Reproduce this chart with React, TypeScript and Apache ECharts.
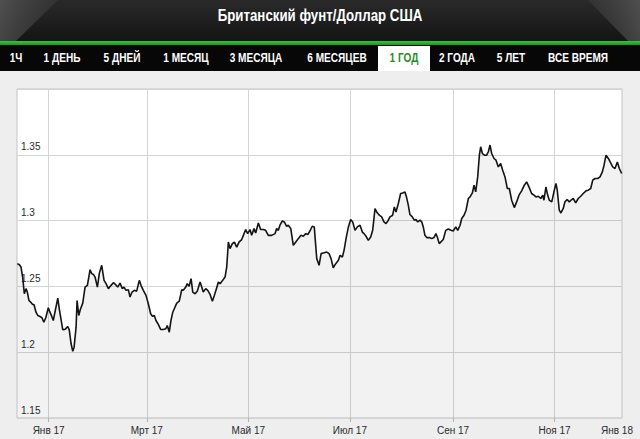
import React, { useEffect, useRef } from "react";
import * as echarts from "echarts";

// ---- texts ----
const TITLE = "Британский фунт/Доллар США";
const tabs = ["1Ч", "1 ДЕНЬ", "5 ДНЕЙ", "1 МЕСЯЦ", "3 МЕСЯЦА", "6 МЕСЯЦЕВ", "1 ГОД", "2 ГОДА", "5 ЛЕТ", "ВСЕ ВРЕМЯ"];
const activeTab = "1 ГОД";

// ---- x axis (days since 1 Jan 2017) ----
const xMin = -19;
const xMax = 344.5;
const tickDays = [0, 59, 120, 181, 243, 304];
const lastLabelDay = 341.5;
const tickLabels = ["Янв 17", "Мрт 17", "Май 17", "Июл 17", "Сен 17", "Ноя 17", "Янв 18"];

// ---- y axis ----
const yMin = 1.15;
const yMax = 1.4;
const yStep = 0.05;

// ---- data: day offset and GBP/USD rate ----
const days = [
  -18.8, -17.6, -16.6, -15.6, -14.6, -13.6, -12.8, -11.8, -10.8, -9.6,
  -8.8, -7.6, -6.5, -5.2, -4.0, -2.9, -1.7, -0.2, 0.8, 1.9,
  2.8, 4.0, 5.5, 6.4, 7.4, 8.5, 10.0, 11.5, 12.4, 13.5,
  14.5, 15.3, 16.5, 17.1, 18.1, 19.0, 20.5, 21.9, 23.3, 24.9,
  25.9, 26.9, 27.9, 29.3, 30.5, 31.9, 33.3, 34.5, 35.9, 37.5,
  38.9, 40.3, 41.5, 42.9, 44.3, 45.3, 46.5, 47.9, 48.9, 50.1,
  51.5, 52.9, 54.5, 55.5, 56.9, 58.5, 59.9, 61.3, 62.5, 63.5,
  64.5, 65.9, 67.3, 68.9, 70.4, 71.3, 72.5, 73.5, 74.6, 75.9,
  77.0, 78.5, 80.0, 80.9, 82.4, 83.3, 84.4, 85.6, 86.6, 88.0,
  89.3, 91.0, 92.0, 92.9, 94.4, 95.6, 97.0, 98.4, 99.6, 101.0,
  102.0, 103.0, 104.6, 106.0, 107.0, 108.0, 109.0, 110.4, 111.6, 113.0,
  114.4, 116.0, 117.0, 118.4, 119.6, 121.0, 122.0, 123.4, 124.4, 126.0,
  127.4, 129.0, 130.4, 132.0, 134.0, 136.0, 137.0, 138.0, 139.0, 140.4,
  141.6, 143.0, 144.0, 145.5, 147.0, 148.5, 150.0, 151.6, 153.0, 154.5,
  155.7, 157.0, 158.4, 159.6, 161.1, 162.5, 163.7, 165.0, 167.1, 168.5,
  169.7, 171.0, 172.5, 174.1, 175.1, 176.5, 177.5, 178.7, 180.1, 181.5,
  182.7, 184.1, 185.5, 187.1, 188.5, 189.5, 190.7, 192.1, 193.5, 194.7,
  196.1, 197.1, 198.7, 200.1, 201.5, 202.7, 204.1, 205.1, 206.7, 207.7,
  208.7, 210.1, 211.5, 212.7, 214.1, 215.1, 216.1, 217.1, 218.5, 219.7,
  220.7, 221.8, 223.1, 224.2, 225.1, 226.1, 227.2, 228.7, 230.2, 231.5,
  232.7, 233.5, 234.7, 237.1, 238.6, 240.1, 241.8, 243.1, 244.6, 245.8,
  247.2, 248.2, 249.6, 250.8, 252.2, 253.2, 254.6, 255.6, 256.6, 257.8,
  258.8, 259.6, 260.6, 261.8, 263.2, 264.2, 265.2, 266.2, 267.6, 268.8,
  270.2, 271.6, 272.8, 274.2, 275.6, 276.8, 278.2, 279.8, 281.2, 282.6,
  284.2, 285.8, 287.2, 288.6, 290.2, 291.6, 292.8, 294.2, 295.7, 296.9,
  297.6, 298.8, 299.6, 300.8, 302.3, 303.6, 304.8, 305.6, 306.8, 307.8,
  309.2, 310.2, 311.6, 312.8, 314.3, 315.2, 316.7, 318.2, 319.7, 321.2,
  322.9, 324.2, 325.7, 326.9, 328.3, 329.9, 331.3, 332.7, 333.7, 334.9,
  336.3, 337.7, 338.9, 340.3, 341.7, 342.9, 344.3,
];

const rates = [
  1.2673, 1.2665, 1.2647, 1.2571, 1.2444, 1.2483, 1.2457, 1.2393, 1.2381, 1.2363,
  1.2363, 1.2304, 1.2279, 1.2272, 1.2262, 1.2228, 1.2262, 1.2338, 1.2304, 1.2272,
  1.2241, 1.2317, 1.2411, 1.2330, 1.2254, 1.2170, 1.2175, 1.2195, 1.2170, 1.2064,
  1.2007, 1.2038, 1.2190, 1.2393, 1.2279, 1.2323, 1.2373, 1.2495, 1.2508, 1.2627,
  1.2597, 1.2591, 1.2571, 1.2495, 1.2601, 1.2660, 1.2546, 1.2521, 1.2483, 1.2508,
  1.2528, 1.2513, 1.2495, 1.2525, 1.2483, 1.2495, 1.2470, 1.2475, 1.2419, 1.2457,
  1.2470, 1.2464, 1.2546, 1.2508, 1.2470, 1.2432, 1.2368, 1.2292, 1.2272, 1.2279,
  1.2241, 1.2211, 1.2173, 1.2173, 1.2178, 1.2203, 1.2152, 1.2241, 1.2304, 1.2342,
  1.2373, 1.2388, 1.2475, 1.2470, 1.2495, 1.2521, 1.2500, 1.2559, 1.2457, 1.2444,
  1.2464, 1.2533, 1.2495, 1.2457, 1.2483, 1.2470, 1.2439, 1.2388, 1.2432, 1.2490,
  1.2533, 1.2521, 1.2546, 1.2571, 1.2647, 1.2837, 1.2787, 1.2825, 1.2837, 1.2799,
  1.2837, 1.2856, 1.2888, 1.2932, 1.2901, 1.2932, 1.2888, 1.2939, 1.2906, 1.2982,
  1.2932, 1.2932, 1.2926, 1.2888, 1.2888, 1.2901, 1.2939, 1.2926, 1.2965, 1.2997,
  1.2990, 1.2957, 1.2965, 1.2939, 1.2812, 1.2837, 1.2863, 1.2888, 1.2881, 1.2901,
  1.2894, 1.2921, 1.2957, 1.2952, 1.2711, 1.2660, 1.2749, 1.2754, 1.2761, 1.2749,
  1.2711, 1.2642, 1.2673, 1.2698, 1.2736, 1.2723, 1.2774, 1.2863, 1.2952, 1.3008,
  1.2990, 1.2926, 1.2952, 1.2965, 1.2913, 1.2901, 1.2881, 1.2850, 1.2875, 1.2926,
  1.3092, 1.3066, 1.3041, 1.3028, 1.2990, 1.2977, 1.3003, 1.3028, 1.3041, 1.3104,
  1.3066, 1.3130, 1.3206, 1.3210, 1.3218, 1.3175, 1.3117, 1.3046, 1.3028, 1.3003,
  1.3008, 1.2990, 1.3003, 1.2990, 1.2952, 1.2888, 1.2871, 1.2871, 1.2863, 1.2871,
  1.2901, 1.2875, 1.2825, 1.2856, 1.2926, 1.2936, 1.2926, 1.2921, 1.2952, 1.2926,
  1.2965, 1.3016, 1.3041, 1.3079, 1.3168, 1.3180, 1.3210, 1.3269, 1.3218, 1.3332,
  1.3497, 1.3561, 1.3510, 1.3497, 1.3497, 1.3523, 1.3574, 1.3510, 1.3472, 1.3459,
  1.3408, 1.3434, 1.3383, 1.3332, 1.3244, 1.3244, 1.3155, 1.3099, 1.3142, 1.3193,
  1.3226, 1.3269, 1.3294, 1.3256, 1.3206, 1.3193, 1.3180, 1.3185, 1.3168, 1.3193,
  1.3155, 1.3256, 1.3206, 1.3155, 1.3142, 1.3218, 1.3282, 1.3231, 1.3079, 1.3058,
  1.3092, 1.3142, 1.3160, 1.3142, 1.3160, 1.3168, 1.3134, 1.3168, 1.3185, 1.3206,
  1.3226, 1.3231, 1.3244, 1.3307, 1.3320, 1.3320, 1.3332, 1.3370, 1.3421, 1.3497,
  1.3472, 1.3439, 1.3408, 1.3396, 1.3446, 1.3396, 1.3358,
];

// ---- layout (pixels) ----
const W = 640;
const H = 439;
const tabCenters = [16, 62, 122, 186, 256, 337, 404, 457, 511, 578];
const SANS = "'Liberation Sans', Arial, sans-serif";

export default function App() {
  const ref = useRef<HTMLDivElement>(null);

  useEffect(() => {
    if (!ref.current) return;
    const chart = echarts.init(ref.current, undefined, { renderer: "svg", width: W, height: H });

    const n = Math.min(days.length, rates.length);
    const seriesData: [number, number][] = [];
    for (let i = 0; i < n; i++) seriesData.push([days[i], rates[i]]);

    const labelDays = [...tickDays, lastLabelDay];

    const graphics: any[] = [
      {
        type: "rect",
        shape: { x: 0, y: 0, width: W, height: 41 },
        style: {
          fill: new echarts.graphic.LinearGradient(0, 0, 0, 1, [
            { offset: 0, color: "#2a2a2a" },
            { offset: 1, color: "#141414" },
          ]),
        },
        silent: true,
      },
      {
        type: "polygon",
        shape: { points: [[0, 0], [58, 0], [16, 41], [0, 41]] },
        style: {
          fill: new echarts.graphic.LinearGradient(0, 0, 1, 0, [
            { offset: 0, color: "rgba(110,110,110,0.55)" },
            { offset: 1, color: "rgba(70,70,70,0.35)" },
          ]),
        },
        silent: true,
      },
      {
        type: "polygon",
        shape: { points: [[588, 0], [W, 0], [W, 41], [628, 41]] },
        style: {
          fill: new echarts.graphic.LinearGradient(0, 0, 1, 0, [
            { offset: 0, color: "rgba(70,70,70,0.35)" },
            { offset: 1, color: "rgba(110,110,110,0.55)" },
          ]),
        },
        silent: true,
      },
      {
        type: "text",
        x: W / 2,
        y: 16,
        scaleX: 0.83,
        style: {
          text: TITLE,
          fill: "#ffffff",
          font: `bold 16px ${SANS}`,
          align: "center",
          verticalAlign: "middle",
          textAlign: "center",
          textVerticalAlign: "middle",
        },
        silent: true,
      },
      {
        type: "rect",
        shape: { x: 0, y: 41, width: W, height: 4 },
        style: {
          fill: new echarts.graphic.LinearGradient(0, 0, 0, 1, [
            { offset: 0, color: "#3bc43b" },
            { offset: 1, color: "#179a17" },
          ]),
        },
        silent: true,
      },
      {
        type: "rect",
        shape: { x: 0, y: 45, width: W, height: 26 },
        style: { fill: "#070707" },
        silent: true,
      },
      {
        type: "rect",
        shape: { x: 378, y: 46, width: 52, height: 25 },
        style: { fill: "#ffffff" },
        silent: true,
      },
    ];

    tabs.forEach((t, i) => {
      graphics.push({
        type: "text",
        x: tabCenters[i],
        y: 58,
        scaleX: 0.84,
        style: {
          text: t,
          fill: t === activeTab ? "#1f8f1f" : "#ffffff",
          font: `bold 12px ${SANS}`,
          align: "center",
          verticalAlign: "middle",
          textAlign: "center",
          textVerticalAlign: "middle",
        },
        silent: true,
      });
    });

    chart.setOption({
      animation: false,
      backgroundColor: "#eeeeee",
      graphic: { elements: graphics },
      grid: {
        left: 17,
        top: 89,
        right: 18,
        bottom: 21,
        show: true,
        backgroundColor: "#ffffff",
        borderColor: "#c4c4c4",
        borderWidth: 1,
      },
      xAxis: {
        type: "value",
        min: xMin,
        max: xMax,
        axisLine: { show: false },
        axisTick: {
          show: true,
          customValues: tickDays,
          length: 4,
          lineStyle: { color: "#b0b0b0" },
        },
        splitLine: { show: true, lineStyle: { color: "#d4d4d4", width: 1 } },
        axisLabel: {
          customValues: labelDays,
          formatter: (v: number) => {
            const i = labelDays.indexOf(v);
            return i >= 0 ? tickLabels[i] : "";
          },
          color: "#2a2a2a",
          fontSize: 10,
          fontFamily: SANS,
          margin: 7,
          showMaxLabel: true,
        },
      },
      yAxis: {
        type: "value",
        min: yMin,
        max: yMax,
        interval: yStep,
        axisLine: { show: false },
        axisTick: { show: false },
        splitLine: { show: true, lineStyle: { color: "#d4d4d4", width: 1 } },
        axisLabel: {
          inside: true,
          showMaxLabel: false,
          verticalAlign: "bottom",
          margin: 4,
          padding: [0, 0, 3, 0],
          color: "#2a2a2a",
          fontSize: 10,
          fontFamily: SANS,
        },
      },
      series: [
        {
          type: "line",
          data: seriesData,
          showSymbol: false,
          symbol: "none",
          lineStyle: { color: "#141414", width: 1.6 },
          areaStyle: { color: "rgba(0,0,0,0.075)", origin: "start" },
          z: 3,
        },
      ],
    });

    return () => {
      chart.dispose();
    };
  }, []);

  return (
    <div
      ref={ref}
      style={{ position: "absolute", left: 0, top: 0, width: W, height: H }}
    />
  );
}
